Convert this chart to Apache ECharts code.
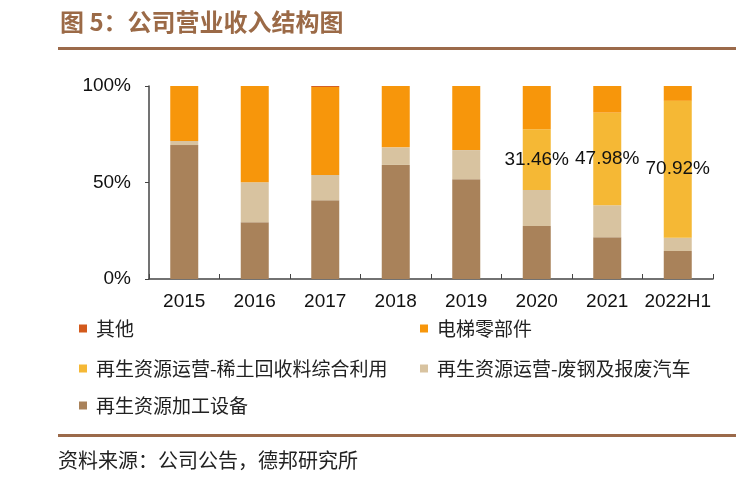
<!DOCTYPE html>
<html><head><meta charset="utf-8">
<script src="https://cdn.jsdelivr.net/npm/echarts@6/dist/echarts.min.js"></script>
<style>html,body{margin:0;padding:0;background:#fff}#c{width:736px;height:500px}</style>
</head><body><div id="c"></div>
<script>
const categories = ['2015','2016','2017','2018','2019','2020','2021','2022H1'];
const equipment = [69.4, 29.4, 40.8, 59.1, 51.7, 27.5, 21.6, 14.5];
const scrapSteel = [2.1, 20.7, 13.1, 9.1, 15.1, 18.6, 16.6, 6.9];
const rareEarth = [0, 0, 0, 0, 0, 31.46, 47.98, 70.92];
const elevator = [28.5, 49.9, 45.6, 31.8, 33.2, 22.44, 13.82, 7.68];
const others = [0, 0, 0.5, 0, 0, 0, 0, 0];
const yTicks = ['0%','50%','100%'];
const names = ['其他','电梯零部件','再生资源运营-稀土回收料综合利用','再生资源运营-废钢及报废汽车','再生资源加工设备'];
const title = '图 5：公司营业收入结构图';
const source = '资料来源：公司公告，德邦研究所';

const colors = {
  '其他':'#D35A1C',
  '电梯零部件':'#F7960B',
  '再生资源运营-稀土回收料综合利用':'#F5B835',
  '再生资源运营-废钢及报废汽车':'#D8C3A0',
  '再生资源加工设备':'#A9825A'
};
const cjk = '"Noto Sans CJK SC", sans-serif';
const num = '"Liberation Sans", Arial, sans-serif';

function bar(name, data, label){
  const s = {name, type:'bar', stack:'t', barWidth:28, data,
    itemStyle:{color:colors[name]}};
  if(label){
    s.label = {show:true, position:'inside', color:'#111', fontFamily:num, fontSize:19,
      formatter: p => p.value > 0 ? p.value.toFixed(2) + '%' : ''};
  }
  return s;
}
function leg(name, left, top){
  return {data:[name], left, top, itemWidth:8, itemHeight:8, itemGap:0, icon:'rect',
    textStyle:{fontFamily:cjk, fontSize:19, color:'#222', padding:[0,0,0,4]}};
}

const chart = echarts.init(document.getElementById('c'), null, {renderer:'canvas'});
chart.setOption({
  animation:false,
  backgroundColor:'#fff',
  grid:{left:149, right:23, top:86, bottom:221},
  xAxis:{type:'category', data:categories,
    axisLine:{lineStyle:{color:'#444', width:1.5}},
    axisTick:{show:true, inside:true, length:5, lineStyle:{color:'#444'}},
    axisLabel:{color:'#111', fontFamily:num, fontSize:19, margin:13, interval:0}},
  yAxis:{type:'value', min:0, max:100, interval:50,
    axisLine:{show:true, lineStyle:{color:'#444', width:1.5}},
    axisTick:{show:true, length:4, lineStyle:{color:'#444'}},
    splitLine:{show:false},
    axisLabel:{color:'#111', fontFamily:num, fontSize:19, margin:18,
      formatter: v => yTicks[v/50]}},
  legend:[
    leg(names[0], 74, 314),
    leg(names[1], 415, 314),
    leg(names[2], 74, 354),
    leg(names[3], 415, 354),
    leg(names[4], 74, 391)
  ],
  series:[
    bar('再生资源加工设备', equipment),
    bar('再生资源运营-废钢及报废汽车', scrapSteel),
    bar('再生资源运营-稀土回收料综合利用', rareEarth, true),
    bar('电梯零部件', elevator),
    bar('其他', others)
  ],
  graphic:[
    {type:'text', left:60, top:10, style:{text:title, fontFamily:cjk, fontSize:24, fontWeight:'bold', fill:'#9B6A47'}},
    {type:'rect', shape:{x:58, y:47, width:678, height:3}, style:{fill:'#9B6A4A'}},
    {type:'rect', shape:{x:58, y:434, width:678, height:3}, style:{fill:'#9B6A4A'}},
    {type:'text', left:58, top:450, style:{text:source, fontFamily:cjk, fontSize:20, fill:'#222'}}
  ]
});
</script></body></html>
